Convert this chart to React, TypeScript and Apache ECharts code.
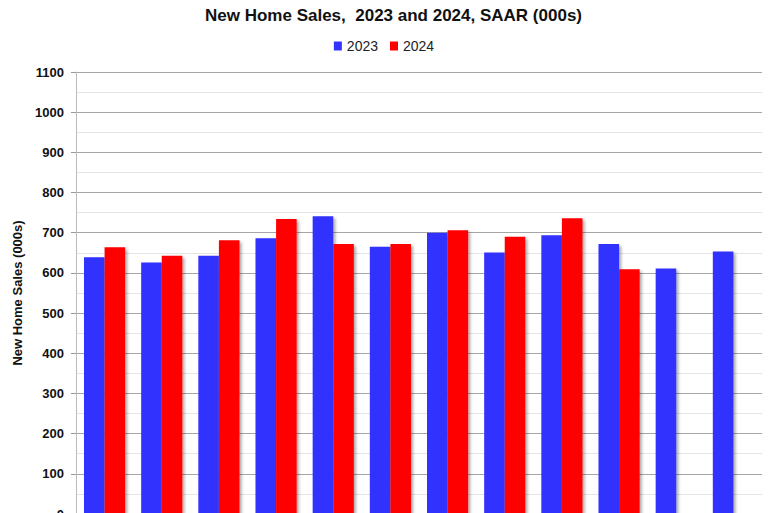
import { useEffect, useRef } from "react";
import * as echarts from "echarts";

const MONTHS = ["Jan", "Feb", "Mar", "Apr", "May", "Jun", "Jul", "Aug", "Sep", "Oct", "Nov", "Dec"];
const SALES_2023 = [639, 626, 643, 686, 741, 665, 700, 651, 694, 672, 611, 653];
const SALES_2024 = [664, 643, 681, 734, 672, 672, 706, 690, 736, 609, null, null];

const FONT = "'Liberation Sans', Arial, sans-serif";
const SHADOW = { shadowBlur: 3, shadowOffsetX: 2, shadowOffsetY: 2, shadowColor: "rgba(0,0,0,0.35)" };

export default function App() {
  const ref = useRef<HTMLDivElement>(null);
  useEffect(() => {
    if (!ref.current) return;
    const chart = echarts.init(ref.current, undefined, { renderer: "svg" });
    chart.setOption({
      animation: false,
      backgroundColor: "#ffffff",
      title: {
        text: "New Home Sales,  2023 and 2024, SAAR (000s)",
        left: 200, top: 2,
        textStyle: { fontFamily: FONT, fontSize: 17, fontWeight: "bold", color: "#111" },
      },
      legend: {
        top: 34, left: "center", icon: "rect", itemWidth: 8, itemHeight: 9, itemGap: 12,
        textStyle: { fontFamily: FONT, fontSize: 14, color: "#222" },
      },
      grid: { left: 76, right: 6, top: 72, bottom: -1, outerBoundsMode: "none" },
      xAxis: {
        type: "category", data: MONTHS,
        axisLine: { show: false }, axisTick: { show: false }, axisLabel: { show: false },
      },
      yAxis: {
        type: "value", min: 0, max: 1100, interval: 100,
        name: "New Home Sales (000s)", nameLocation: "middle", nameGap: 51, nameRotate: 90,
        nameTextStyle: { fontFamily: FONT, fontSize: 13, fontWeight: "bold", color: "#111" },
        axisLine: { show: true, lineStyle: { color: "#bbb", width: 1 } },
        axisTick: { show: true, length: 5, lineStyle: { color: "#999" } },
        axisLabel: {
          fontFamily: FONT, fontSize: 13, fontWeight: "bold", color: "#111", margin: 12,
          formatter: (v: number) => String(v),
        },
        splitLine: { lineStyle: { color: "#a6a6a6", width: 1 } },
        minorTick: { show: false, splitNumber: 2 },
        minorSplitLine: { show: true, lineStyle: { color: "#e4e4e4", width: 1 } },
      },
      series: [
        {
          name: "2023", type: "bar", data: SALES_2023, barGap: "0%", barCategoryGap: "28%",
          itemStyle: { color: "#3333ff", ...SHADOW },
        },
        {
          name: "2024", type: "bar", data: SALES_2024, barGap: "0%", barCategoryGap: "28%",
          itemStyle: { color: "#ff0000", ...SHADOW },
        },
      ],
    });
    return () => chart.dispose();
  }, []);
  return <div ref={ref} style={{ position: "fixed", left: 0, top: 0, width: 768, height: 513 }} />;
}
